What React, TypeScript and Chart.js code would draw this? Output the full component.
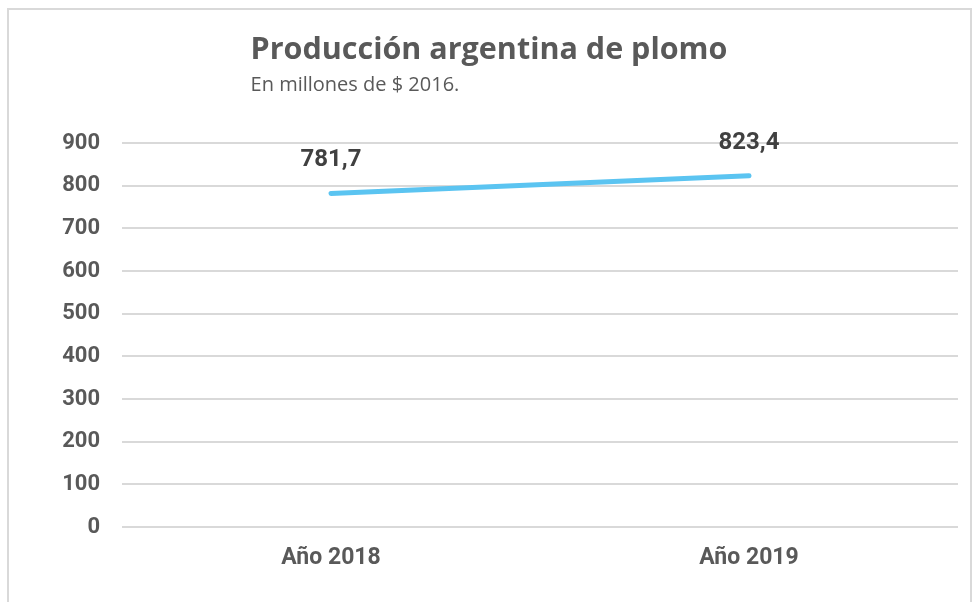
import React, { useEffect, useRef } from "react";
import { Chart, registerables } from "chart.js";

Chart.register(...registerables);

const categories = ["Año 2018", "Año 2019"];
const values = [781.7, 823.4];
const valueLabels = ["781,7", "823,4"];
const yTicks = [0, 100, 200, 300, 400, 500, 600, 700, 800, 900];
const titleText = "Producción argentina de plomo";
const subtitleText = "En millones de $ 2016.";

const titlePlugin = {
  id: "customTitle",
  afterDraw(chart: any) {
    const ctx = chart.ctx;
    ctx.save();
    ctx.font = "bold 30.5px 'Open Sans'";
    const w = ctx.measureText(titleText).width;
    const x = 489 - w / 2;
    ctx.fillStyle = "#595959";
    ctx.textAlign = "left";
    ctx.textBaseline = "alphabetic";
    ctx.fillText(titleText, x, 59);
    ctx.font = "20px 'Open Sans'";
    ctx.fillText(subtitleText, x, 91);
    ctx.restore();
  },
};

const labelPlugin = {
  id: "valueLabels",
  afterDatasetsDraw(chart: any) {
    const ctx = chart.ctx;
    const meta = chart.getDatasetMeta(0);
    ctx.save();
    ctx.font = "bold 24px Roboto";
    ctx.fillStyle = "#404040";
    ctx.textAlign = "center";
    ctx.textBaseline = "middle";
    meta.data.forEach((pt: any, i: number) => {
      ctx.fillText(valueLabels[i], pt.x, pt.y - 33);
    });
    ctx.restore();
  },
};

export default function App() {
  const ref = useRef<HTMLCanvasElement>(null);
  useEffect(() => {
    if (!ref.current) return;
    const chart = new Chart(ref.current, {
      type: "line",
      data: {
        labels: categories,
        datasets: [
          {
            data: values,
            borderColor: "#5bc4f1",
            backgroundColor: "#5bc4f1",
            borderWidth: 5,
            borderCapStyle: "round",
            pointRadius: 0,
            tension: 0,
          },
        ],
      },
      options: {
        animation: false,
        responsive: false,
        layout: { padding: { top: 143, right: 20, left: 0, bottom: 0 } },
        plugins: {
          legend: { display: false },
          tooltip: { enabled: false },
        },
        scales: {
          x: {
            offset: true,
            grid: { display: false, drawTicks: false },
            border: { display: false },
            ticks: {
              color: "#595959",
              font: { family: "Roboto", weight: "bold", size: 23 },
              padding: 17,
            },
            afterFit(scale: any) {
              scale.height = 75;
            },
          },
          y: {
            min: 0,
            max: 900,
            afterBuildTicks(scale: any) {
              scale.ticks = yTicks.map((v) => ({ value: v }));
            },
            grid: { color: "#d9d9d9", lineWidth: 2, drawTicks: false },
            border: { display: false },
            ticks: {
              color: "#595959",
              font: { family: "Roboto", weight: "bold", size: 22 },
              padding: 22,
            },
            afterFit(scale: any) {
              scale.width = 122;
            },
          },
        },
      },
      plugins: [titlePlugin, labelPlugin],
    });
    return () => chart.destroy();
  }, []);
  return (
    <div style={{ position: "fixed", left: 0, top: 0, width: 978, height: 602, background: "#fff", overflow: "hidden" }}>
      <div
        style={{
          position: "absolute",
          left: 7,
          top: 8,
          width: 961,
          height: 640,
          border: "2px solid #d9d9d9",
        }}
      />
      <canvas ref={ref} width={978} height={602} style={{ position: "absolute", left: 0, top: 0 }} />
    </div>
  );
}
